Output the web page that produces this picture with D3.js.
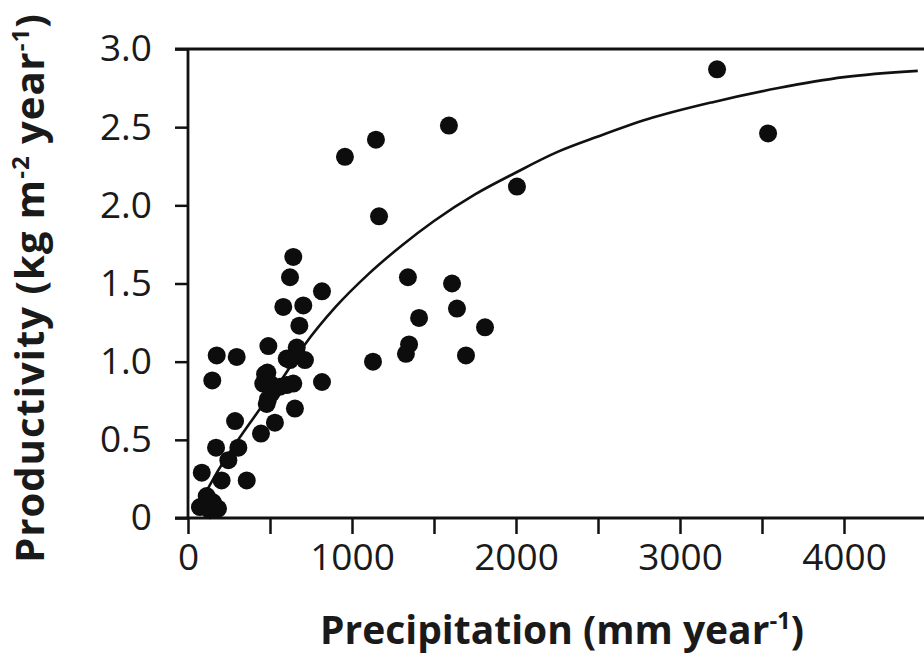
<!DOCTYPE html>
<html>
<head>
<meta charset="utf-8">
<script src="https://cdn.jsdelivr.net/npm/d3@7/dist/d3.min.js"></script>
<style>
  html, body { margin: 0; padding: 0; background: #ffffff; }
  svg { display: block; }
  text { font-family: "Open Sans", "Noto Sans", sans-serif; fill: #1a1a1a; }
</style>
</head>
<body>
<svg id="chart" width="924" height="663"></svg>
<script>
// Observed sites: precipitation (mm/yr) and productivity (kg m-2 yr-1)
const precipitation = [
  3226, 3537, 2006, 1591, 1146, 957, 1165, 1341, 1610, 1640, 1811, 1409, 1348, 1329, 1695, 1128, 817, 817,
  642, 622, 581, 703, 679, 490, 663, 713, 602, 175, 297, 148, 484, 459, 642, 561, 510, 652, 480, 530,
  445, 287, 171, 307, 246, 84, 205, 358, 114, 152, 73, 183, 134, 470, 500, 602, 488, 622
];
const productivity = [
  2.87, 2.46, 2.12, 2.51, 2.42, 2.31, 1.93, 1.54, 1.50, 1.34, 1.22, 1.28, 1.11, 1.05, 1.04, 1.00, 1.45, 0.87,
  1.67, 1.54, 1.35, 1.36, 1.23, 1.10, 1.09, 1.01, 1.02, 1.04, 1.03, 0.88, 0.93, 0.86, 0.86, 0.84, 0.80, 0.70, 0.73, 0.61,
  0.54, 0.62, 0.45, 0.45, 0.37, 0.29, 0.24, 0.24, 0.14, 0.10, 0.07, 0.06, 0.05, 0.92, 0.86, 0.85, 0.76, 1.01
];
// Fitted curve
const curvePrecip = [60, 165, 420, 580, 713, 900, 1100, 1300, 1500, 1750, 2000, 2250, 2500, 2800, 3200, 3600, 4000, 4450];
const curveProd   = [0.07, 0.27, 0.67, 0.90, 1.11, 1.35, 1.56, 1.74, 1.90, 2.07, 2.21, 2.34, 2.44, 2.55, 2.66, 2.75, 2.82, 2.86];

const xTickValues = [0, 500, 1000, 1500, 2000, 2500, 3000, 3500, 4000];
const xTickLabels = ["0", "", "1000", "", "2000", "", "3000", "", "4000"];
const yTickValues = [0, 0.5, 1.0, 1.5, 2.0, 2.5, 3.0];
const yTickLabels = ["0", "0.5", "1.0", "1.5", "2.0", "2.5", "3.0"];

const svg = d3.select("#chart");
const W = 924;
const x = d3.scaleLinear().domain([0, 4000]).range([188, 844]);
const y = d3.scaleLinear().domain([0, 3]).range([518, 49]);

const axisColor = "#111";

// X axis
const xAxis = d3.axisBottom(x)
  .tickValues(xTickValues)
  .tickSize(16)
  .tickPadding(10)
  .tickFormat((d, i) => xTickLabels[i]);
const gx = svg.append("g").attr("transform", `translate(0,${y(0)})`).call(xAxis);
gx.select(".domain").remove();
gx.selectAll(".tick line").attr("stroke", axisColor).attr("stroke-width", 2.5);
gx.selectAll(".tick text").attr("font-size", 37).attr("fill", "#1a1a1a").attr("font-family", "'Open Sans', sans-serif");
gx.append("line").attr("x1", 175).attr("x2", W).attr("y1", 0).attr("y2", 0)
  .attr("stroke", axisColor).attr("stroke-width", 2.8);

// Y axis
const yAxis = d3.axisLeft(y)
  .tickValues(yTickValues)
  .tickSize(13)
  .tickPadding(23)
  .tickFormat((d, i) => yTickLabels[i]);
const gy = svg.append("g").attr("transform", `translate(${x(0)},0)`).call(yAxis);
gy.select(".domain").remove();
gy.selectAll(".tick line").attr("stroke", axisColor).attr("stroke-width", 2.5);
gy.selectAll(".tick text").attr("font-size", 37).attr("fill", "#1a1a1a").attr("font-family", "'Open Sans', sans-serif");
gy.append("line").attr("x1", 0).attr("x2", 0).attr("y1", y(3)).attr("y2", y(0))
  .attr("stroke", axisColor).attr("stroke-width", 2.8);
// top frame line (extends from the 3.0 tick)
svg.append("line").attr("x1", x(0) - 13).attr("x2", W).attr("y1", y(3)).attr("y2", y(3))
  .attr("stroke", axisColor).attr("stroke-width", 2.8);

// Curve
const curveData = curvePrecip.map((p, i) => ({ p, v: curveProd[i] }));
svg.append("path")
  .datum(curveData)
  .attr("fill", "none")
  .attr("stroke", "#111")
  .attr("stroke-width", 2.6)
  .attr("d", d3.line().x(d => x(d.p)).y(d => y(d.v)).curve(d3.curveMonotoneX));

// Points
const pts = precipitation.map((p, i) => ({ p, v: productivity[i] }));
svg.append("g").selectAll("circle").data(pts).join("circle")
  .attr("cx", d => x(d.p))
  .attr("cy", d => y(d.v))
  .attr("r", 9)
  .attr("fill", "#0d0d0d");

// Axis titles
const xt = svg.append("text")
  .attr("x", 562).attr("y", 644)
  .attr("text-anchor", "middle")
  .attr("font-size", 39).attr("font-weight", "bold");
xt.append("tspan").text("Precipitation (mm year");
xt.append("tspan").attr("font-size", 24).attr("dy", -15).text("-1");
xt.append("tspan").attr("dy", 15).text(")");

const yt = svg.append("text")
  .attr("transform", "translate(44,288) rotate(-90)")
  .attr("text-anchor", "middle")
  .attr("letter-spacing", 1)
  .attr("font-size", 40).attr("font-weight", "bold");
yt.append("tspan").text("Productivity (kg m");
yt.append("tspan").attr("font-size", 24).attr("dy", -15).text("-2");
yt.append("tspan").attr("dy", 15).text(" year");
yt.append("tspan").attr("font-size", 24).attr("dy", -15).text("-1");
yt.append("tspan").attr("dy", 15).text(")");
</script>
</body>
</html>
